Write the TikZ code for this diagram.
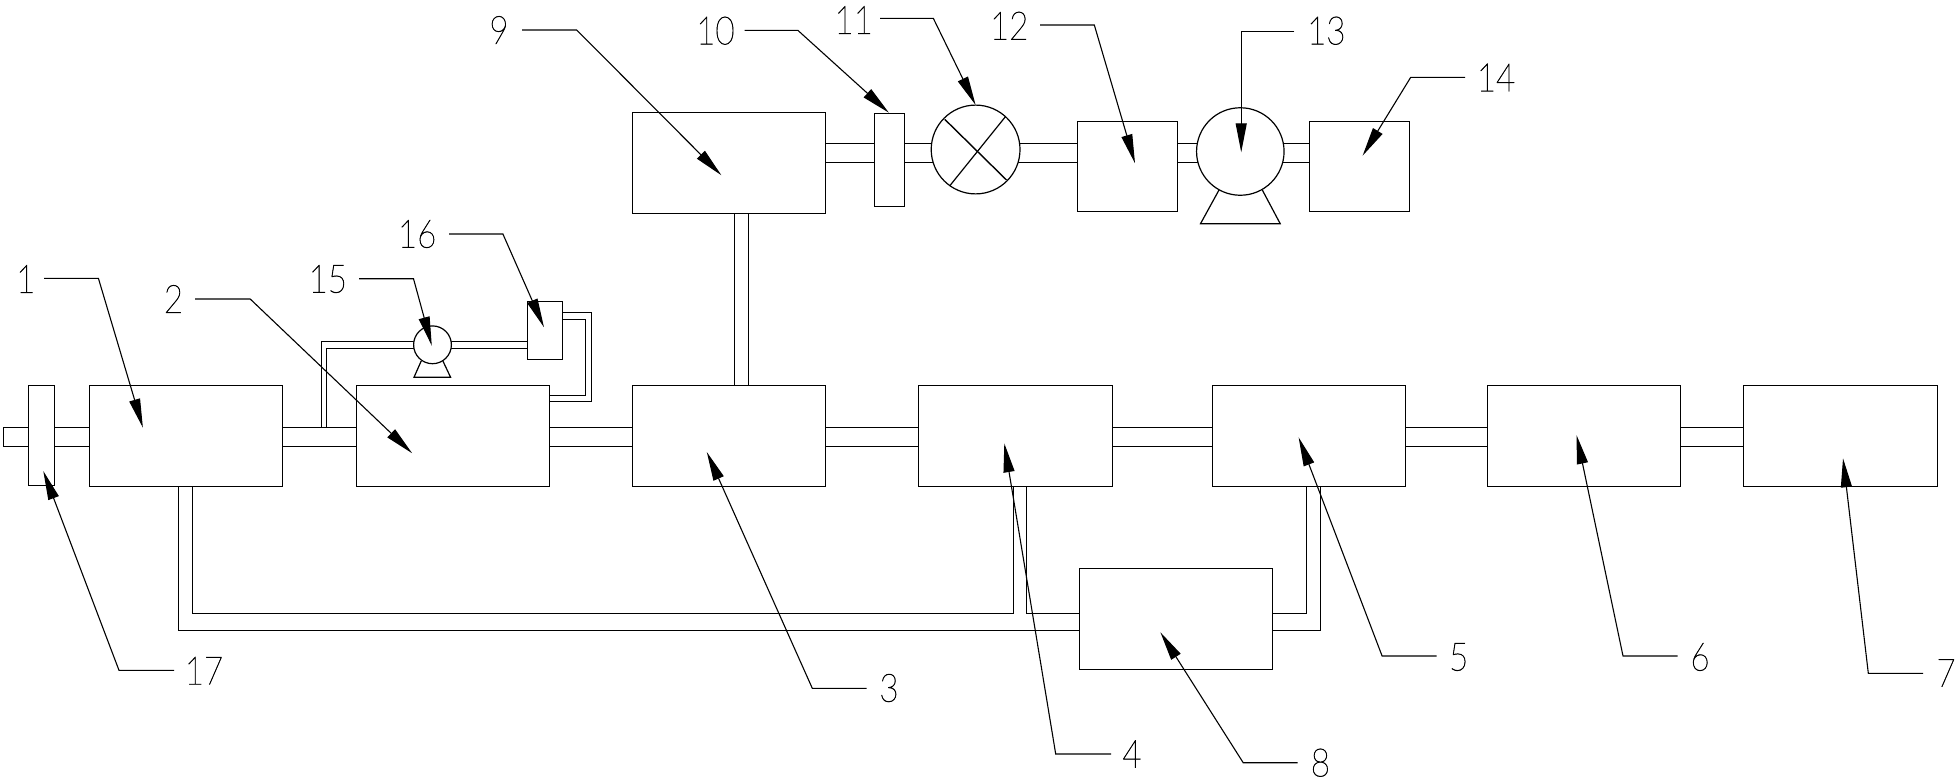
\documentclass[tikz,border=0pt]{standalone}
\usepackage{fontspec}
\newfontfamily\lab[FakeBold=1.5]{Lato Thin}
\usetikzlibrary{arrows.meta,backgrounds}
\tikzset{
  unit/.style={draw=black,line width=1.2pt,fill=white,rectangle,inner sep=0pt,outer sep=0pt},
  pumpbody/.style={draw=black,line width=1.2pt,fill=white,circle,inner sep=0pt,outer sep=0pt},
  pipe/.style={draw=black,line width=1.2pt},
  leader/.style={draw=black,line width=1.1pt,-{Triangle[length=29pt,width=11pt]}},
  tag/.style={inner sep=0pt,font=\lab\fontsize{39}{39}\selectfont,xscale=0.85}
}
% \mkbox{name}{x1}{y1}{x2}{y2}
\newcommand{\mkbox}[5]{\node[unit,minimum width=#4pt-#2pt,minimum height=#5pt-#3pt] (#1) at ({(#2+#4)/2},{(#3+#5)/2}) {};}
% \mkleader{id}{text}{text x,y}{start}{elbow}{tip}
\newcommand{\mkleader}[6]{%
  \node[tag] (tag#1) at (#3) {#2};
  \coordinate (s#1) at (#4);
  \coordinate (e#1) at (#5);
  \coordinate (t#1) at (#6);
  \draw[leader] (s#1) -- (e#1) -- (t#1);
}
\begin{document}
\begin{tikzpicture}[x=1pt,y=-1pt]
\useasboundingbox (0,0) rectangle (1958,782);
\mkbox{b17}{28.6}{385.3}{54.3}{485.3}
\mkbox{b1}{89.4}{385.3}{282.4}{486.3}
\mkbox{b2}{356.3}{385.3}{549.4}{486.3}
\mkbox{b3}{632.3}{385.3}{825.5}{486.3}
\mkbox{b4}{918.2}{385.3}{1112.5}{486.3}
\mkbox{b5}{1212.5}{385.3}{1405.4}{486.3}
\mkbox{b6}{1487.2}{385.3}{1680.3}{486.3}
\mkbox{b7}{1743.3}{385.3}{1937.3}{486.3}
\mkbox{b8}{1079.3}{568.3}{1272.5}{669.3}
\mkbox{b9}{632.5}{112.3}{825.5}{213.3}
\mkbox{b10}{874.3}{113.3}{904.6}{206.7}
\mkbox{b12}{1077.5}{121.3}{1177.2}{211.3}
\mkbox{b14}{1309.5}{121.3}{1409.2}{211.3}
\mkbox{b16}{527.3}{301.3}{562.4}{359.3}
\node[pumpbody,minimum size=88.8pt] (v11) at (975.6,149.5) {};
\draw[pipe,line width=1.4pt] (944.7,119.3) coordinate (xa) -- (1006.5,180) coordinate (xb);
\draw[pipe] (1005.4,116.7) coordinate (xc) -- (949.6,186) coordinate (xd);
% pump 13
\coordinate (f13a) at (1219,190);
\coordinate (f13b) at (1262.3,190);
\coordinate (f13c) at (1280.2,223.7);
\coordinate (f13d) at (1200.5,223.7);
\draw[pipe] (f13a) -- (f13d) -- (f13c) -- (f13b);
\node[pumpbody,minimum size=87.5pt] (p13) at (1240.3,151.5) {};
% pump 15
\coordinate (f15a) at (421.2,361);
\coordinate (f15b) at (442.9,361);
\coordinate (f15c) at (450.6,377.3);
\coordinate (f15d) at (414,377.3);
\draw[pipe] (f15a) -- (f15d) -- (f15c) -- (f15b);
\node[pumpbody,minimum size=37.8pt] (p15) at (432.5,344.8) {};
% pipe levels
\coordinate (mt) at (0,427.5);
\coordinate (mb) at (0,446.5);
\coordinate (ut) at (0,143.3);
\coordinate (ub) at (0,162.3);
\coordinate (ft) at (0,341.3);
\coordinate (fb) at (0,348.3);
\coordinate (lt) at (0,613.3);
\coordinate (lb) at (0,630.3);
\coordinate (x0) at (3.3,0);
\begin{scope}[on background layer]
% main line
\draw[pipe] (x0 |- mt) -- (b1.west |- mt);
\draw[pipe] (x0 |- mb) -- (b1.west |- mb);
\draw[pipe] (x0 |- mt) -- (x0 |- mb);
\foreach \a/\b in {b1/b2,b2/b3,b3/b4,b4/b5,b5/b6,b6/b7}{
  \draw[pipe] (\a.east |- mt) -- (\b.west |- mt);
  \draw[pipe] (\a.east |- mb) -- (\b.west |- mb);
}
% upper line
\foreach \a/\b in {b9/b10,b10/v11,v11/b12,b12/p13,p13/b14}{
  \draw[pipe] (\a.center |- ut) -- (\b.center |- ut);
  \draw[pipe] (\a.center |- ub) -- (\b.center |- ub);
}
% 3 to 9
\coordinate (ra) at (734.4,0);
\coordinate (rb) at (748.5,0);
\draw[pipe] (ra |- b9.south) -- (ra |- b3.north);
\draw[pipe] (rb |- b9.south) -- (rb |- b3.north);
% bypass
\coordinate (ya) at (321.2,0);
\coordinate (yb) at (326.5,0);
\draw[pipe] (ya |- mt) -- (ya |- ft) -- (p15.center |- ft);
\draw[pipe] (yb |- mt) -- (yb |- fb) -- (p15.center |- fb);
\draw[pipe] (p15.center |- ft) -- (b16.center |- ft);
\draw[pipe] (p15.center |- fb) -- (b16.center |- fb);
\coordinate (za) at (591.4,312.3);
\coordinate (zb) at (585.7,319.3);
\coordinate (zc) at (0,401.3);
\coordinate (zd) at (0,395.3);
\draw[pipe] (b16.east |- za) -- (za) -- (za |- zc) -- (b2.east |- zc);
\draw[pipe] (b16.east |- zb) -- (zb) -- (zb |- zd) -- (b2.east |- zd);
% lower loop
\coordinate (ca) at (178.3,0);
\coordinate (cb) at (192.3,0);
\coordinate (cc) at (1013.2,0);
\coordinate (cd) at (1026.4,0);
\coordinate (ce) at (1306.4,0);
\coordinate (cf) at (1320.4,0);
\draw[pipe] (ca |- b1.south) -- (ca |- lb) -- (b8.west |- lb);
\draw[pipe] (cb |- b1.south) -- (cb |- lt) -- (cc |- lt) -- (cc |- b4.south);
\draw[pipe] (cd |- b4.south) -- (cd |- lt) -- (b8.west |- lt);
\draw[pipe] (b8.east |- lt) -- (ce |- lt) -- (ce |- b5.south);
\draw[pipe] (b8.east |- lb) -- (cf |- lb) -- (cf |- b5.south);
\end{scope}
% leaders
\mkleader{1}{1}{25.7,279}{44,278.3}{98.4,278.3}{142.9,427.7}
\mkleader{2}{2}{173.5,299}{195,299}{250.2,299}{412.2,453.3}
\mkleader{15}{15}{327.8,279}{359.2,278.7}{413.5,278.7}{431.8,345.7}
\mkleader{16}{16}{417.1,234}{449,234}{502.9,234}{544,327.3}
\mkleader{9}{9}{499,30}{522,30}{576.7,30}{721.4,175.3}
\mkleader{10}{10}{715.4,30.7}{744.7,30.3}{797.8,30.3}{888.9,112.7}
\mkleader{11}{11}{853.7,20}{880.2,18.3}{933.3,18.3}{975.6,105}
\mkleader{12}{12}{1009.2,25.7}{1040.1,25}{1094.3,25}{1135,163.3}
\mkleader{13}{13}{1326.3,30.7}{1294.3,31.3}{1241.2,31.3}{1241.2,152.3}
\mkleader{14}{14}{1496,77.5}{1465,77.3}{1410.7,77.3}{1362.6,155.7}
\mkleader{17}{17}{204,670.7}{174,670.3}{119,670.3}{43.3,471}
\mkleader{3}{3}{889,688}{866.7,688.3}{812.3,688.3}{706.8,452}
\mkleader{4}{4}{1132,754}{1111,754}{1055.7,754}{1004.3,443.3}
\mkleader{8}{8}{1320.4,762.7}{1297.5,762.7}{1243.2,762.7}{1160.4,632.3}
\mkleader{5}{5}{1458.7,657}{1436.7,656}{1382.1,656}{1298.6,437.3}
\mkleader{6}{6}{1700,657}{1677.6,656}{1623,656}{1576.5,435}
\mkleader{7}{7}{1946,673}{1923,673.3}{1868.3,673.3}{1843,458.3}
\end{tikzpicture}
\end{document}
